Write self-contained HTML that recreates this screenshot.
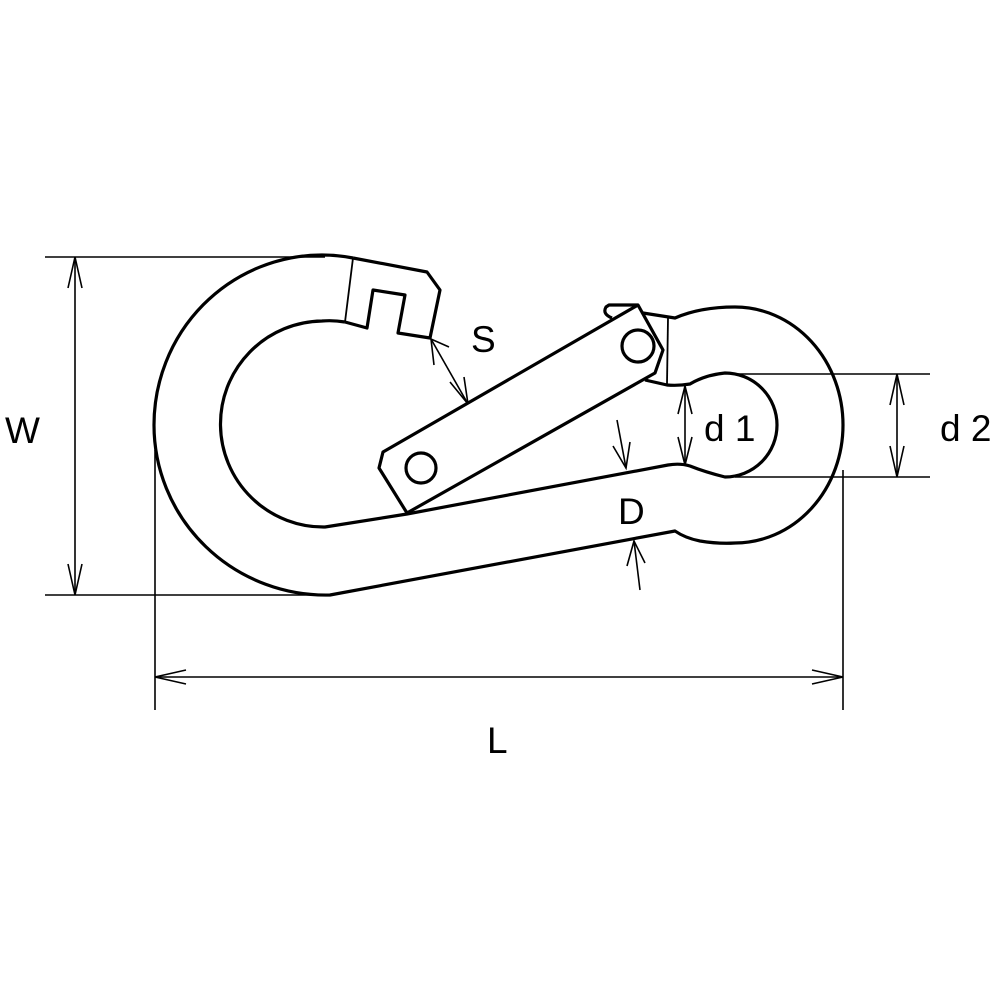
<!DOCTYPE html>
<html><head><style>
html,body{margin:0;padding:0;background:#fff;}
svg{display:block}
text{font-family:"Liberation Sans",sans-serif;font-size:37px;fill:#000}
</style></head><body>
<svg width="1000" height="1000" viewBox="0 0 1000 1000" xmlns="http://www.w3.org/2000/svg">
<g fill="none" stroke="#000" stroke-width="1.6">
  <line x1="45" y1="257" x2="325" y2="257"/>
  <line x1="45" y1="595" x2="330" y2="595"/>
  <line x1="155" y1="450" x2="155" y2="710"/>
  <line x1="843" y1="470" x2="843" y2="710"/>
  <line x1="735" y1="374" x2="930" y2="374"/>
  <line x1="735" y1="477" x2="930" y2="477"/>
  <line x1="75" y1="257" x2="75" y2="595"/>
  <polyline points="68,288 75,257 82,288"/>
  <polyline points="68,564 75,595 82,564"/>
  <line x1="155" y1="677" x2="843" y2="677"/>
  <polyline points="186,670 155,677 186,684"/>
  <polyline points="812,670 843,677 812,684"/>
  <line x1="897" y1="374" x2="897" y2="477"/>
  <polyline points="890,405 897,374 904,405"/>
  <polyline points="890,446 897,477 904,446"/>
  <line x1="685" y1="386" x2="685" y2="465"/>
  <polyline points="678,414 685,386 692,414"/>
  <polyline points="678,437 685,465 692,437"/>
  <line x1="431" y1="339" x2="468" y2="404"/>
  <polyline points="449,347 431,339 434,365"/>
  <polyline points="450,382 468,404 464,377"/>
  <line x1="617" y1="420" x2="626" y2="468"/>
  <polyline points="613,446 626,468 630,442"/>
  <line x1="640" y1="590" x2="634" y2="541"/>
  <polyline points="627,566 634,541 645,563"/>
</g>
<g fill="none" stroke="#000" stroke-width="3.2" stroke-linejoin="round">
  <path d="M353,258 Q338,255 322,255 A168 170 0 0 0 154,425 A172 170 0 0 0 330,595 L675,531 Q685,538 700,541 Q718,544 735,543 A108 118 0 0 0 735,307 Q700,307 675,318 L643,313"/>
  <path d="M353,258 L427,272 L440,290 L430,338 L398,333 L405,295 L373,290 L367,328 L345,322"/>
  <line x1="353" y1="258" x2="345" y2="322" stroke-width="1.8"/>
  <path d="M345,322 Q333,320 322,321 A103 103 0 1 0 325,527 L407,514 L668,465 Q680,463 690,466 Q705,472 725,477 A52 52 0 0 0 725,373 Q705,375 690,384 Q678,386 667,385 L645,380"/>
  <line x1="668" y1="318" x2="667" y2="384" stroke-width="1.8"/>
  <path d="M612,318 Q602,314 606,307 L609,305 L638,305" fill="#fff"/>
  <polygon points="383,452 379,468 407,513 655,373 663,350 638,305" fill="#fff"/>
  <circle cx="421" cy="468" r="15"/>
  <circle cx="638" cy="346" r="16"/>
</g>
<text x="5" y="443">W</text>
<text x="487" y="753">L</text>
<text x="471" y="352">S</text>
<text x="618" y="524">D</text>
<text x="704" y="441">d 1</text>
<text x="940" y="441">d 2</text>
</svg>
</body></html>
